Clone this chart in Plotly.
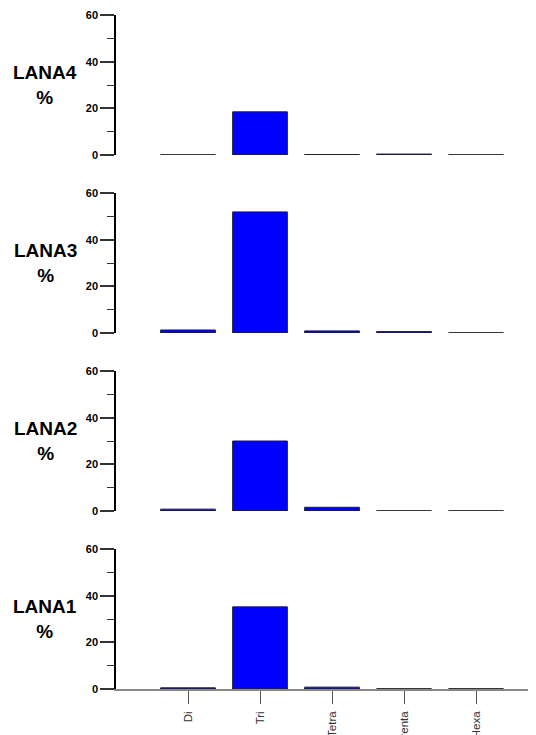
import plotly.graph_objects as go

categories = ["Di", "Tri", "Tetra", "Penta", "Hexa"]
panel_names = ["LANA4", "LANA3", "LANA2", "LANA1"]
lana4 = [0.1, 18.5, 0.2, 0.4, 0.1]
lana3 = [1.3, 51.9, 0.9, 0.6, 0.1]
lana2 = [0.8, 30.0, 1.6, 0.1, 0.1]
lana1 = [0.5, 35.2, 0.8, 0.1, 0.1]
series = [lana4, lana3, lana2, lana1]
y_ticks = [0, 20, 40, 60]

# page body has an 8px margin; compensate
OFF = 8
W, H = 536 - OFF, 735 - OFF
top_px, panel_h, gap_px = 15 - OFF, 140, 38
left_px = 116 - OFF
plot_h = 4 * panel_h + 3 * gap_px
bottom_px = H - top_px - plot_h

fig = go.Figure()
font_fam = "Arial, Liberation Sans, sans-serif"

for i, (name, vals) in enumerate(zip(panel_names, series)):
    n = i + 1
    xa = "x" if n == 1 else f"x{n}"
    ya = "y" if n == 1 else f"y{n}"
    fig.add_trace(go.Bar(
        x=categories, y=vals, xaxis=xa, yaxis=ya,
        width=0.76,
        marker=dict(color="#0000FF", line=dict(color="#222222", width=1)),
        showlegend=False,
    ))
    dom_top = 1 - (i * (panel_h + gap_px)) / plot_h
    dom_bot = dom_top - panel_h / plot_h
    is_bottom = (i == 3)
    xkey = "xaxis" if n == 1 else f"xaxis{n}"
    ykey = "yaxis" if n == 1 else f"yaxis{n}"
    fig.layout[xkey] = dict(
        domain=[0, 1], anchor=ya,
        range=[-1, 4.833],
        type="category",
        showgrid=False, zeroline=False,
        showline=is_bottom, linecolor="#888888", linewidth=1.5,
        ticks="outside" if is_bottom else "", ticklen=13, tickcolor="#555555",
        showticklabels=is_bottom, tickangle=-90, ticklabelstandoff=3,
        tickfont=dict(family=font_fam, size=11.5, color="#333333"),
        automargin=False,
    )
    fig.layout[ykey] = dict(
        domain=[max(dom_bot, 0), min(dom_top, 1)], anchor=xa,
        range=[0, 60], tickvals=y_ticks,
        showgrid=False, zeroline=False,
        showline=True, linecolor="black", linewidth=1.5,
        ticks="outside", ticklen=14, tickcolor="#333333", tickwidth=1.5,
        minor=dict(ticks="outside", ticklen=7, dtick=10, tickcolor="#333333", tickwidth=1.2),
        tickfont=dict(family=font_fam, size=11, color="black", weight="bold"),
        automargin=False,
    )
    yc = (dom_top + dom_bot) / 2
    fig.add_annotation(
        xref="paper", yref="paper",
        x=(45 - 116) / 420, y=yc,
        text=f"<b>{name}</b><br><b>%</b>",
        showarrow=False, xanchor="center", yanchor="middle",
        font=dict(family=font_fam, size=19, color="black"),
    )

fig.update_layout(
    width=W, height=H,
    margin=dict(l=left_px, r=0, t=top_px, b=bottom_px, pad=0),
    plot_bgcolor="white", paper_bgcolor="white",
    bargap=0.24,
)

fig.write_html("out.html")
